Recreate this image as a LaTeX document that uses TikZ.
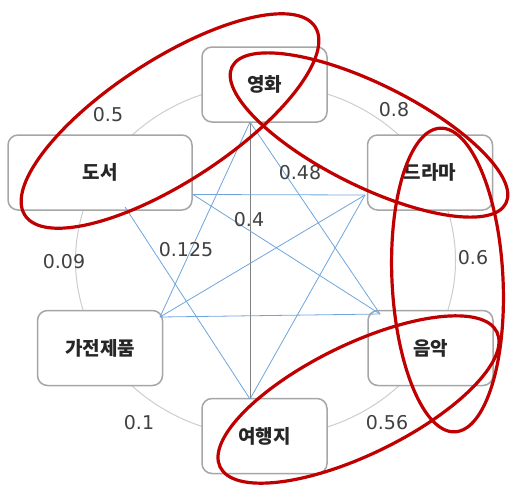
\documentclass[tikz,border=0pt]{standalone}
\usepackage{fontspec}
\newfontfamily\krfont{Noto Sans CJK KR}
\newfontfamily\numfont{DejaVu Sans}
\definecolor{boxgray}{RGB}{166,166,166}
\definecolor{arcgray}{RGB}{205,205,205}
\definecolor{lineblue}{RGB}{110,165,220}
\definecolor{vgray}{RGB}{128,128,128}
\definecolor{ellred}{RGB}{192,0,0}
\definecolor{numgray}{RGB}{64,64,64}
\begin{document}
\begin{tikzpicture}[x=1pt,y=-1pt,
  box/.style={draw=boxgray, line width=1.5pt, rounded corners=10pt, fill=white,
    minimum width=125pt, minimum height=75pt, inner sep=0pt,
    font=\krfont\bfseries\fontsize{19}{19}\selectfont, text=black!85},
  num/.style={font=\numfont\fontsize{19}{19}\selectfont, text=numgray, inner sep=0pt},
  link/.style={draw=lineblue, line width=0.8pt},
  redell/.style={draw=ellred, line width=3.2pt}]
\useasboundingbox (0,0) rectangle (510,491);
% outer ring
\draw[arcgray, line width=1pt] (265.5,260.5) ellipse [x radius=190pt, y radius=176pt];
% boxes
\node[box] (yh) at (264.5,84.5) {영화};
\node[box] (dr) at (430,172.5) {드라마};
\node[box] (um) at (430.5,348) {음악};
\node[box] (yg) at (264.5,436) {여행지};
\node[box] (gj) at (100,348) {가전제품};
\node[box, minimum width=184pt] (ds) at (100,172.5) {도서};
% attach points
\coordinate (pY) at (250,122);
\coordinate (pD) at (365,195);
\coordinate (pU) at (380,314);
\coordinate (pG) at (160,317);
\coordinate (pT) at (250,399);
\coordinate (pS1) at (193,194.5);
\coordinate (pS2) at (125,207);
% links
\draw[draw=vgray, line width=0.8pt] (pY) -- (pT);
\draw[link] (pY) -- (pG);
\draw[link] (pY) -- (pU);
\draw[link] (pS1) -- (pD);
\draw[link] (pD) -- (pG);
\draw[link] (pD) -- (pT);
\draw[link] (pS1) -- (pU);
\draw[link] (pG) -- (pU);
\draw[link] (pS2) -- (pT);
% labels
\node[num] (l1) at (108,115) {0.5};
\node[num] (l2) at (394,110) {0.8};
\node[num] (l3) at (473,258) {0.6};
\node[num] (l4) at (387,423) {0.56};
\node[num] (l5) at (139,423) {0.1};
\node[num] (l6) at (64,262) {0.09};
\node[num] (l7) at (300,173) {0.48};
\node[num] (l8) at (249,220) {0.4};
\node[num] (l9) at (186,250) {0.125};
% red ellipses
\draw[redell, rotate around={33:(170,121)}] (170,121) ellipse [x radius=173pt, y radius=61pt];
\draw[redell, rotate around={-26.5:(369,135)}] (369,135) ellipse [x radius=153pt, y radius=51pt];
\draw[redell, rotate around={92.8:(447.5,280)}] (447.5,280) ellipse [x radius=152pt, y radius=55.5pt];
\draw[redell, rotate around={26:(358.5,399.5)}] (358.5,399.5) ellipse [x radius=154pt, y radius=55pt];
\end{tikzpicture}
\end{document}
